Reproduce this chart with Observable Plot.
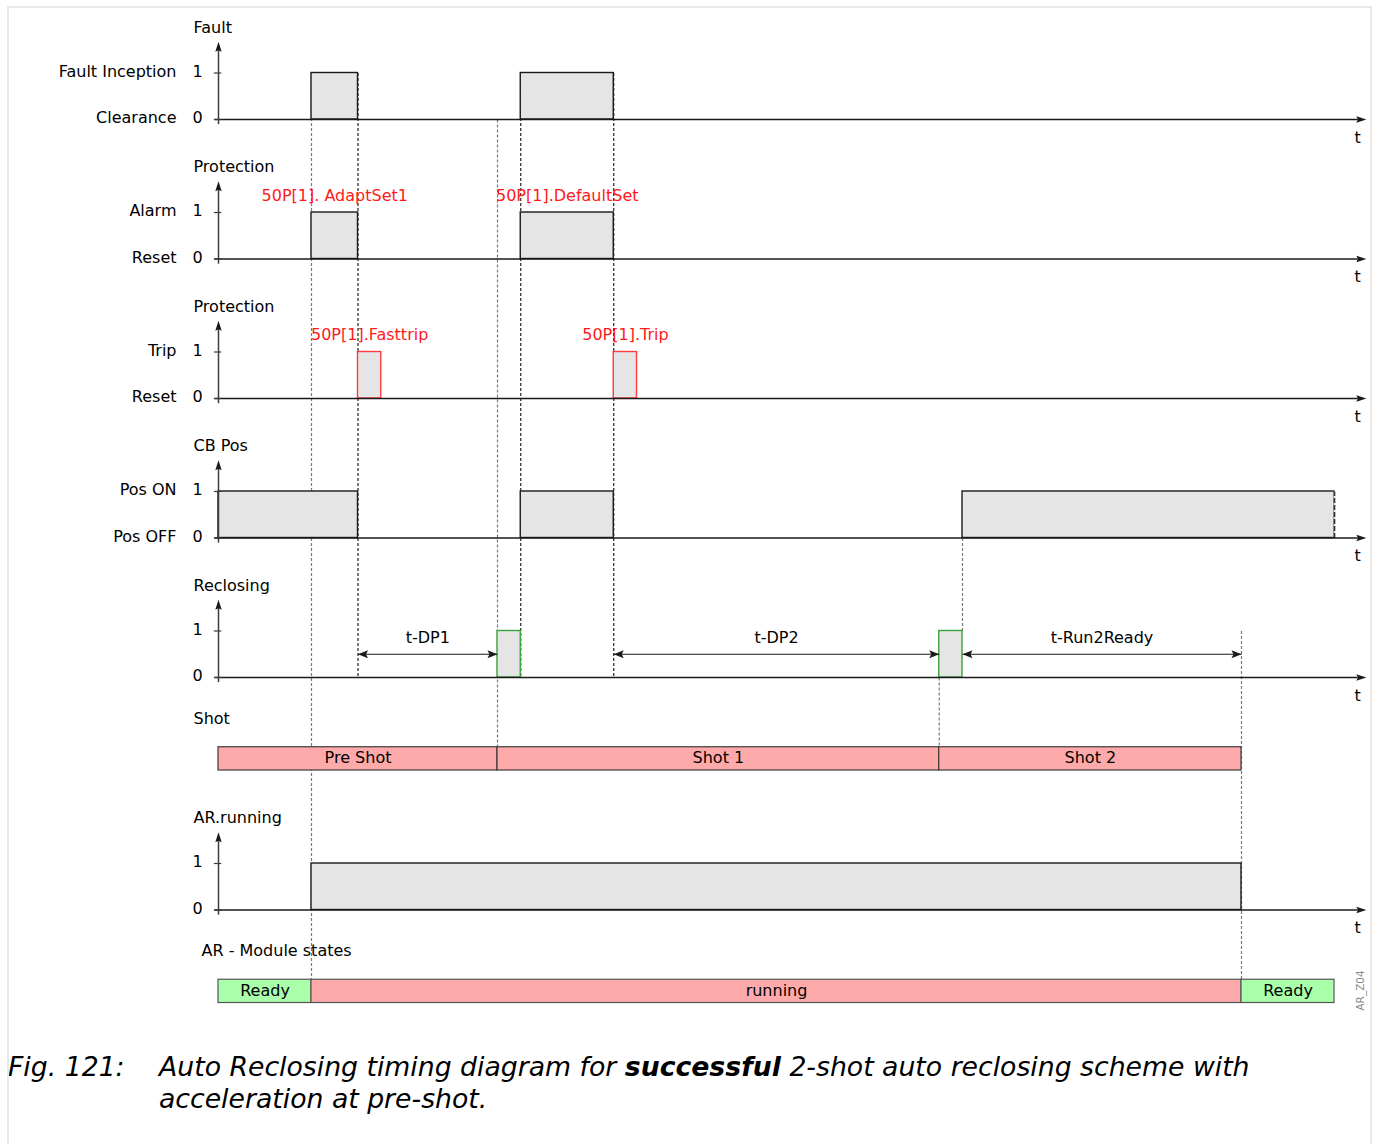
<!DOCTYPE html>
<html>
<head>
<meta charset="utf-8">
<script src="https://cdn.jsdelivr.net/npm/d3@7"></script>
<script src="https://cdn.jsdelivr.net/npm/@observablehq/plot@0.6"></script>
<style>
  html, body { margin: 0; padding: 0; background: #fff; overflow: hidden; }
  #frame { position: absolute; left: 7px; top: 6px; width: 1361px; height: 1200px; border: 2px solid #e9e9e9; pointer-events: none; }
  #chart { position: absolute; left: 0; top: 0; }
  #caption { position: absolute; left: 0; top: 1051px; width: 1381px; font-family: "DejaVu Sans", sans-serif; font-style: italic; font-size: 26.7px; line-height: 32px; color: #000; }
  #caption .num { position: absolute; left: 8px; top: 0; }
  #caption .txt { position: absolute; left: 159px; top: 0; width: 1210px; }
</style>
</head>
<body>
<div id="chart"></div>
<div id="caption"><span class="num">Fig. 121:</span><span class="txt">Auto Reclosing timing diagram for <b>successful</b> 2-shot auto reclosing scheme with<br>acceleration at pre-shot.</span></div>
<div id="frame"></div>
<script>
// ---------------- DATA ----------------
const signalTitles = ["Fault", "Protection", "Protection", "CB Pos", "Reclosing", "AR.running"];
const highLabels = ["Fault Inception", "Alarm", "Trip", "Pos ON", "", ""];
const lowLabels = ["Clearance", "Reset", "Reset", "Pos OFF", "", ""];
const levelTicks = ["0", "1"];

// pulses: row index, start time, end time, kind
const pulseRow   = [0, 0, 1, 1, 2, 2, 3, 3, 3, 4, 4, 5];
const pulseStart = [4, 13, 4, 13, 6, 17, 0, 13, 32, 12, 31, 4];
const pulseEnd   = [6, 17, 6, 17, 7, 18, 6, 17, 48, 13, 32, 44];
const pulseKind  = ["plain", "plain", "plain", "plain", "trip", "trip", "plain", "plain", "plain", "close", "close", "plain"];

// red function annotations
const noteRow  = [1, 1, 2, 2];
const noteTime = [5, 15, 6.5, 17.5];
const noteText = ["50P[1]. AdaptSet1", "50P[1].DefaultSet", "50P[1].Fasttrip", "50P[1].Trip"];

// timer dimensions in the Reclosing row
const dimStart = [6, 17, 32];
const dimEnd   = [12, 31, 44];
const dimText  = ["t-DP1", "t-DP2", "t-Run2Ready"];

// Shot bar
const shotStart = [0, 12, 31];
const shotEnd   = [12, 31, 44];
const shotText  = ["Pre Shot", "Shot 1", "Shot 2"];

// AR module states bar
const stateStart = [0, 4, 44];
const stateEnd   = [4, 44, 48];
const stateText  = ["Ready", "running", "Ready"];
const stateKind  = ["ready", "running", "ready"];

// event guide lines (time, from level, to level, tone)
const guideTime = [4, 6, 12, 13, 17, 31, 32, 44];
const guideFrom = [1, 1, 0, 1, 1, -12, -9, -11];
const guideTo   = [-18.5, -12, -13.5, -12, -12, -13.5, -11, -18.5];
const guideTone = ["light", "dark", "light", "dark", "dark", "light", "light", "light"];

// ---------------- LAYOUT ----------------
const W = 1381, H = 1030;
const unitPx = 46.5, zeroPx = 119;
const rowBase = i => (i < 5 ? -3 * i : -17);
const shotLevel = -13.5, stateLevel = -18.5, barH = 0.5;
const tEnd = 48;

const signals = signalTitles.map((title, i) => ({title, i, base: rowBase(i), hi: highLabels[i], lo: lowLabels[i]}));
const pulses = pulseRow.map((r, k) => ({r, x1: pulseStart[k], x2: pulseEnd[k], kind: pulseKind[k], base: rowBase(r)}));
const notes = noteRow.map((r, k) => ({x: noteTime[k], y: rowBase(r) + 1.36, text: noteText[k]}));
const dims = dimStart.map((s, k) => ({x1: s, x2: dimEnd[k], text: dimText[k], y: rowBase(4) + 0.5}));
const shots = shotStart.map((s, k) => ({x1: s, x2: shotEnd[k], text: shotText[k]}));
const states = stateStart.map((s, k) => ({x1: s, x2: stateEnd[k], text: stateText[k], kind: stateKind[k]}));
const guides = guideTime.map((t, k) => ({x: t, y1: guideFrom[k], y2: guideTo[k], tone: guideTone[k]}));

const tickRows = signals.flatMap(s => levelTicks.map((lab, v) => ({base: s.base, v, lab})));
const nameRows = signals.flatMap(s => [{y: s.base, text: s.lo}, {y: s.base + 1, text: s.hi}]).filter(d => d.text);

// filled arrowheads (tip at the point)
const arrowUp = {draw(c) { c.moveTo(0, 0); c.lineTo(3.2, 10); c.lineTo(0, 8.5); c.lineTo(-3.2, 10); c.closePath(); }};
const arrowRight = {draw(c) { c.moveTo(0, 0); c.lineTo(-10, 3.2); c.lineTo(-8.5, 0); c.lineTo(-10, -3.2); c.closePath(); }};
const dimRight = {draw(c) { c.moveTo(0, 0); c.lineTo(-10, 4); c.lineTo(-8, 0); c.lineTo(-10, -4); c.closePath(); }};
const dimLeft = {draw(c) { c.moveTo(0, 0); c.lineTo(10, 4); c.lineTo(8, 0); c.lineTo(10, -4); c.closePath(); }};

const grayFill = "#e5e5e5";
const ink = "#1a1a1a";
const axisInk = "#3c3c3c";
const kindStroke = {plain: ink, trip: "#ff3b3b", close: "#3aa33a"};
const toneStroke = {light: "#7a7a7a", dark: "#222"};
const stateFill = {ready: "#aaffaa", running: "#ffaaaa"};

const chart = Plot.plot({
  width: W, height: H,
  marginTop: 0, marginRight: 0, marginBottom: 0, marginLeft: 0,
  x: {type: "linear", domain: [0, tEnd], range: [218, 1334], axis: null},
  y: {type: "linear", domain: [(zeroPx - H) / unitPx, zeroPx / unitPx], range: [H, 0], axis: null},
  style: {fontFamily: "'DejaVu Sans', sans-serif", fontSize: "16px", background: "transparent", color: "#000"},
  marks: [
    // guide lines
    Plot.link(guides, {x1: "x", x2: "x", y1: "y1", y2: "y2", stroke: d => toneStroke[d.tone], strokeWidth: 1.2, strokeDasharray: "3,2"}),
    // pulses
    Plot.rect(pulses, {x1: "x1", x2: "x2", y1: "base", y2: d => d.base + 1, fill: grayFill, stroke: d => kindStroke[d.kind], strokeWidth: 1.4}),
    // open end of CB Pos pulse
    Plot.link(pulses.filter(d => d.x2 === tEnd && d.r === 3), {x1: "x2", x2: "x2", y1: "base", y2: d => d.base + 1, stroke: grayFill, strokeWidth: 2}),
    Plot.link(pulses.filter(d => d.x2 === tEnd && d.r === 3), {x1: "x2", x2: "x2", y1: "base", y2: d => d.base + 1, stroke: "#333", strokeWidth: 1.6, strokeDasharray: "5,2"}),
    // horizontal time axes
    Plot.link(signals, {x1: -0.18, x2: 49.0, y1: "base", y2: "base", stroke: ink, strokeWidth: 1.3}),
    Plot.dot(signals, {x: 49.37, y: "base", symbol: arrowRight, fill: ink, stroke: null}),
    Plot.text(signals, {x: 49, y: d => d.base - 0.39, text: () => "t", fill: "#000"}),
    // vertical axes
    Plot.link(signals, {x1: 0, x2: 0, y1: d => d.base - 0.1, y2: d => d.base + 1.5, stroke: axisInk, strokeWidth: 1.5}),
    Plot.dot(signals, {x: 0, y: d => d.base + 1.67, symbol: arrowUp, fill: ink, stroke: null}),
    // level ticks
    Plot.link(tickRows, {x1: -0.2, x2: 0.12, y1: d => d.base + d.v, y2: d => d.base + d.v, stroke: axisInk, strokeWidth: 1.2}),
    Plot.text(tickRows, {x: 0, y: d => d.base + d.v, dx: -21, dy: -1.5, text: "lab", fill: "#000"}),
    Plot.text(nameRows, {x: 0, y: "y", dx: -42, dy: -1.5, text: "text", textAnchor: "end", fill: "#000"}),
    // signal titles
    Plot.text(signals, {x: 0, y: d => d.base + 1.98, dx: -25, text: "title", textAnchor: "start", fill: "#000"}),
    // red annotations
    Plot.text(notes, {x: "x", y: "y", text: "text", fill: "#ff1a1a"}),
    // timer dimensions
    Plot.link(dims, {x1: "x1", x2: "x2", y1: "y", y2: "y", stroke: ink, strokeWidth: 1.2}),
    Plot.dot(dims, {x: "x1", y: "y", symbol: dimLeft, fill: ink, stroke: null}),
    Plot.dot(dims, {x: "x2", y: "y", symbol: dimRight, fill: ink, stroke: null}),
    Plot.text(dims, {x: d => (d.x1 + d.x2) / 2, y: d => d.y + 0.36, text: "text", fill: "#000"}),
    // Shot bar
    Plot.text([{}], {x: 0, y: shotLevel + 0.62, dx: -25, text: () => "Shot", textAnchor: "start", fill: "#000"}),
    Plot.rect(shots, {x1: "x1", x2: "x2", y1: shotLevel - barH, y2: shotLevel, fill: "#ffaaaa", stroke: "#3a3a3a", strokeWidth: 1.2}),
    Plot.text(shots, {x: d => (d.x1 + d.x2) / 2, y: shotLevel - barH / 2, dy: -1, text: "text", fill: "#000"}),
    // AR module states
    Plot.text([{}], {x: 0, y: stateLevel + 0.63, dx: -17, text: () => "AR - Module states", textAnchor: "start", fill: "#000"}),
    Plot.rect(states, {x1: "x1", x2: "x2", y1: stateLevel - barH, y2: stateLevel, fill: d => stateFill[d.kind], stroke: "#555", strokeWidth: 1.2}),
    Plot.text(states, {x: d => (d.x1 + d.x2) / 2, y: stateLevel - barH / 2, dy: -1, text: "text", fill: "#000"}),
    // drawing id
    Plot.text([{}], {x: 49.12, y: -18.73, text: () => "AR_Z04", rotate: -90, fontSize: 10.5, fill: "#8a8a8a"})
  ]
});
document.getElementById("chart").appendChild(chart);
</script>
</body>
</html>
